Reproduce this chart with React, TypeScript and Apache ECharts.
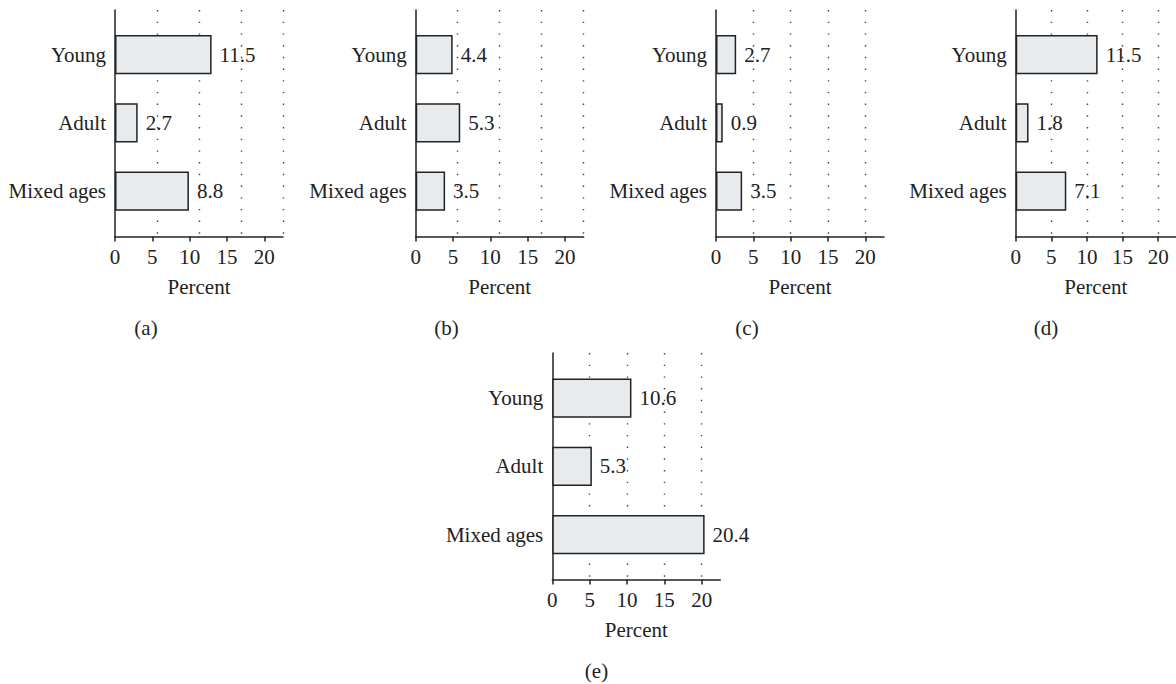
import React, { useEffect, useRef } from "react";
import * as echarts from "echarts";

// Age groups, top to bottom
const categories = ["Young", "Adult", "Mixed ages"];

// Percent per age group in each panel
const valuesA = [11.5, 2.7, 8.8];
const valuesB = [4.4, 5.3, 3.5];
const valuesC = [2.7, 0.9, 3.5];
const valuesD = [11.5, 1.8, 7.1];
const valuesE = [10.6, 5.3, 20.4];

const panelLetters = ["(a)", "(b)", "(c)", "(d)", "(e)"];
const tickValues = [0, 5, 10, 15, 20];
const tickAxisMax = 22.5;
// Value at the right end of the plotting scale used by bars and dotted guides
const barScaleMax = [20, 20, 22.5, 22.5, 22.5];

const FONT = "Liberation Serif";
const FONT_SIZE = 21;
const INK = "#222";

const AXIS_WIDTH = 168;
const FRAME_HEIGHT = 226.5;
const BAR_HEIGHT = 204.8;

const panels = [
  { values: valuesA, left: 115, frameTop: 10, barTop: 20.5, letterX: 146, letterY: 328 },
  { values: valuesB, left: 415.7, frameTop: 10, barTop: 20.5, letterX: 446.5, letterY: 328 },
  { values: valuesC, left: 716, frameTop: 10, barTop: 20.5, letterX: 747, letterY: 328 },
  { values: valuesD, left: 1015.7, frameTop: 10, barTop: 20.5, letterX: 1046, letterY: 328 },
  { values: valuesE, left: 552.3, frameTop: 353, barTop: 364, letterX: 596.5, letterY: 670.5 },
];

function buildOption() {
  const grid: any[] = [];
  const xAxis: any[] = [];
  const yAxis: any[] = [];
  const series: any[] = [];
  const graphic: any[] = [];

  panels.forEach((p, i) => {
    const frameGrid = 2 * i;
    const barGrid = 2 * i + 1;
    const scaleMax = barScaleMax[i];

    grid.push({ left: p.left, top: p.frameTop, width: AXIS_WIDTH, height: FRAME_HEIGHT });
    grid.push({ left: p.left, top: p.barTop, width: AXIS_WIDTH, height: BAR_HEIGHT });

    // Visible percent axis with ticks and labels
    xAxis.push({
      type: "value",
      gridIndex: frameGrid,
      position: "bottom",
      min: 0,
      max: tickAxisMax,
      interval: 5,
      axisLine: { show: true, onZero: false, lineStyle: { color: INK, width: 1.5 } },
      axisTick: { show: true, inside: false, length: 5, customValues: tickValues, lineStyle: { color: INK, width: 1.5 } },
      axisLabel: { show: true, customValues: tickValues, margin: 10, fontSize: FONT_SIZE, fontFamily: FONT, color: INK },
      splitLine: { show: false },
      name: "Percent",
      nameLocation: "middle",
      nameGap: 40,
      nameTextStyle: { fontSize: FONT_SIZE, fontFamily: FONT, color: INK },
    });
    // Dotted vertical guides
    xAxis.push({
      type: "value",
      gridIndex: frameGrid,
      position: "top",
      min: 0,
      max: scaleMax,
      interval: 5,
      axisLine: { show: false },
      axisTick: { show: false },
      axisLabel: { show: false },
      splitLine: {
        show: true,
        showMinLine: false,
        showMaxLine: scaleMax === 20,
        lineStyle: { color: "#444", width: 1.4, type: [1.4, 10.3] },
      },
    });
    // Scale for the bars
    xAxis.push({
      type: "value",
      gridIndex: barGrid,
      min: 0,
      max: scaleMax,
      show: false,
    });

    // Vertical frame line
    yAxis.push({
      type: "value",
      gridIndex: frameGrid,
      min: 0,
      max: 1,
      axisLine: { show: true, onZero: false, lineStyle: { color: INK, width: 1.5 } },
      axisTick: { show: false },
      axisLabel: { show: false },
      splitLine: { show: false },
    });
    // Category labels
    yAxis.push({
      type: "category",
      gridIndex: barGrid,
      data: categories,
      inverse: true,
      axisLine: { show: false },
      axisTick: { show: false },
      axisLabel: { show: true, margin: 9, fontSize: FONT_SIZE, fontFamily: FONT, color: INK },
      splitLine: { show: false },
    });

    series.push({
      type: "bar",
      xAxisIndex: 3 * i + 2,
      yAxisIndex: 2 * i + 1,
      data: p.values,
      barWidth: "57.5%",
      itemStyle: { color: "#e8ebee", borderColor: INK, borderWidth: 1.5 },
      label: {
        show: true,
        position: "right",
        distance: 8,
        fontSize: FONT_SIZE,
        fontFamily: FONT,
        color: INK,
        formatter: (d: any) => Number(d.value).toFixed(1),
      },
    });

    graphic.push({
      type: "text",
      x: p.letterX,
      y: p.letterY,
      style: {
        text: panelLetters[i],
        fontSize: FONT_SIZE,
        fontFamily: FONT,
        fill: INK,
        textAlign: "center",
        textVerticalAlign: "middle",
      },
    });
  });

  return {
    animation: false,
    backgroundColor: "#ffffff",
    grid,
    xAxis,
    yAxis,
    series,
    graphic,
  };
}

export default function App() {
  const ref = useRef<HTMLDivElement>(null);

  useEffect(() => {
    if (!ref.current) return;
    const chart = echarts.init(ref.current, undefined, { renderer: "svg" });
    chart.setOption(buildOption() as any);
    return () => chart.dispose();
  }, []);

  return (
    <div
      ref={ref}
      style={{ position: "absolute", left: 0, top: 0, width: 1176, height: 684 }}
    />
  );
}
